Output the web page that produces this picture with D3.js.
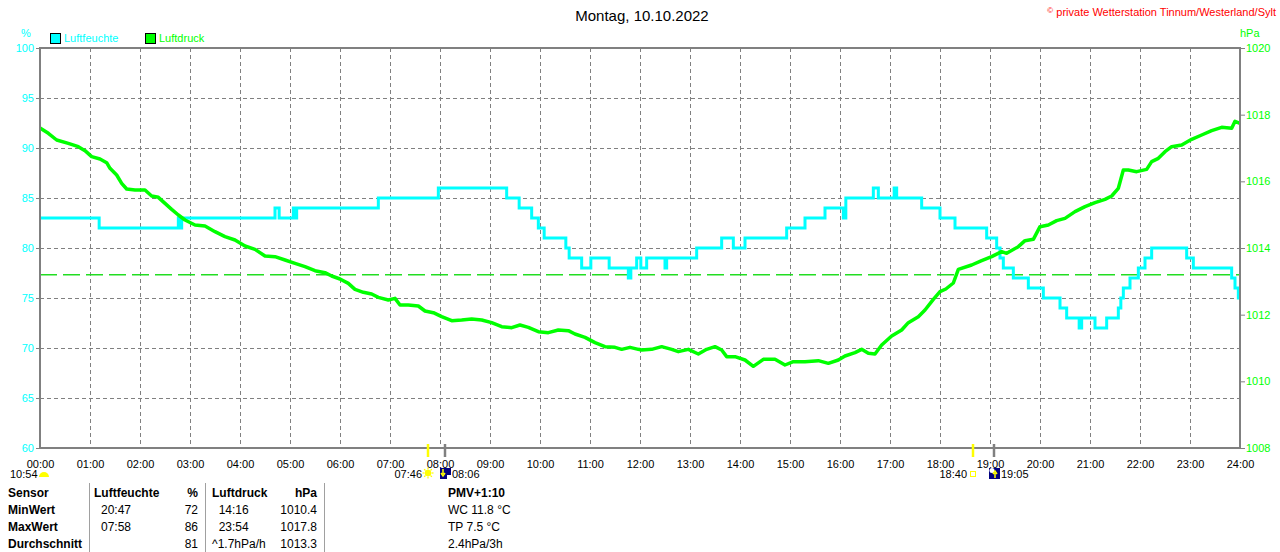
<!DOCTYPE html>
<html>
<head>
<meta charset="utf-8">
<script src="https://cdn.jsdelivr.net/npm/d3@7"></script>
<style>
	body { margin: 0; background: #fff; }
	svg { display: block; font-family: "Liberation Sans", Arial, sans-serif; }
</style>
</head>
<body>
<svg id="chart"></svg>
<script>
// --- data (times in minutes after midnight) ---
const hourLabels = ["00:00", "01:00", "02:00", "03:00", "04:00", "05:00", "06:00", "07:00",
	"08:00", "09:00", "10:00", "11:00", "12:00", "13:00", "14:00", "15:00", "16:00",
	"17:00", "18:00", "19:00", "20:00", "21:00", "22:00", "23:00", "24:00"];
const humTicks = [60, 65, 70, 75, 80, 85, 90, 95, 100];
const pressTicks = [1008, 1010, 1012, 1014, 1016, 1018, 1020];

// Luftfeuchte (%), step values
const humTimes = [0, 71, 166, 168, 170, 282, 287, 304, 306, 308, 406, 478, 560, 575, 590, 598,
	605, 631, 635, 650, 661, 683, 706, 709, 716, 721, 728, 750, 752, 788, 818, 832, 846, 896,
	918, 942, 964, 967, 1000, 1006, 1025, 1028, 1058, 1080, 1098, 1136, 1148, 1152, 1156, 1168,
	1186, 1204, 1224, 1232, 1247, 1250, 1266, 1280, 1294, 1297, 1300, 1308, 1318, 1326, 1334,
	1376, 1384, 1430, 1434, 1438, 1440];
const humValues = [83, 82, 83, 82, 83, 84, 83, 84, 83, 84, 85, 86, 85, 84, 83, 82,
	81, 80, 79, 78, 79, 78, 77, 78, 79, 78, 79, 78, 79, 80, 81, 80, 81, 82,
	83, 84, 83, 85, 86, 85, 86, 85, 84, 83, 82, 81, 80, 79, 78, 77,
	76, 75, 74, 73, 72, 73, 72, 73, 74, 75, 76, 77, 78, 79, 80,
	79, 78, 77, 76, 75, 75];

// Luftdruck (hPa)
const pressTimes = [0, 10, 20, 34, 46, 54, 62, 72, 80, 84, 92, 98, 104, 114, 126, 134, 142, 150,
	158, 166, 174, 186, 198, 210, 222, 234, 246, 258, 270, 282, 294, 306, 318, 330, 342, 350,
	360, 370, 378, 388, 398, 406, 418, 426, 432, 442, 454, 462, 472, 482, 494, 506, 518, 530,
	542, 554, 566, 576, 586, 598, 610, 622, 634, 642, 654, 666, 678, 690, 698, 708, 718, 722,
	734, 746, 758, 766, 778, 790, 800, 810, 818, 824, 834, 846, 856, 868, 882, 894, 904, 918,
	934, 946, 958, 966, 978, 986, 994, 1002, 1010, 1022, 1034, 1042, 1054, 1062, 1072, 1080,
	1087, 1096, 1102, 1118, 1130, 1142, 1154, 1160, 1174, 1182, 1192, 1200, 1210, 1220, 1230,
	1242, 1254, 1266, 1278, 1286, 1294, 1300, 1306, 1316, 1328, 1334, 1342, 1350, 1358, 1370,
	1382, 1394, 1406, 1418, 1430, 1434, 1440];
const pressValues = [1017.6, 1017.44, 1017.24, 1017.14, 1017.04, 1016.92, 1016.74, 1016.67, 1016.56,
	1016.39, 1016.19, 1015.94, 1015.77, 1015.74, 1015.74, 1015.56, 1015.52, 1015.34,
	1015.16, 1014.99, 1014.84, 1014.69, 1014.66, 1014.49, 1014.34, 1014.24, 1014.06, 1013.96,
	1013.76, 1013.74, 1013.64, 1013.54, 1013.44, 1013.32, 1013.26, 1013.16,
	1013.07, 1012.94, 1012.76, 1012.67, 1012.62, 1012.52, 1012.44, 1012.49, 1012.29, 1012.29,
	1012.26, 1012.11, 1012.06, 1011.94, 1011.82, 1011.84, 1011.87, 1011.84,
	1011.76, 1011.64, 1011.61, 1011.69, 1011.62, 1011.49, 1011.46, 1011.54, 1011.52, 1011.42,
	1011.32, 1011.16, 1011.04, 1011.02, 1010.96, 1011.02, 1010.96, 1010.94,
	1010.96, 1011.04, 1010.96, 1010.89, 1010.96, 1010.82, 1010.96, 1011.04, 1010.94, 1010.74,
	1010.74, 1010.64, 1010.45, 1010.66, 1010.66, 1010.49, 1010.59, 1010.59,
	1010.62, 1010.54, 1010.64, 1010.76, 1010.86, 1010.96, 1010.84, 1010.82, 1011.09, 1011.36,
	1011.54, 1011.76, 1011.94, 1012.14, 1012.46, 1012.69,
	1012.77, 1012.95, 1013.36, 1013.49, 1013.62, 1013.74, 1013.89, 1013.84, 1014.04, 1014.22,
	1014.26, 1014.64, 1014.69, 1014.82, 1014.89,
	1015.09, 1015.24, 1015.36, 1015.46, 1015.56, 1015.79, 1016.34, 1016.34, 1016.29, 1016.36,
	1016.59, 1016.69, 1016.89, 1017.04, 1017.09,
	1017.26, 1017.39, 1017.52, 1017.62, 1017.59, 1017.8, 1017.74];
const pressAvg = 1013.2;

// sun / moon events
const dayLength = "10:54";
const eventLabels = ["07:46", "08:06", "18:40", "19:05"];
const eventKinds = ["sunrise", "moonset", "sunset", "moonrise"];

// table below the chart
const tableHead = ["Sensor", "Luftfeuchte", "%", "Luftdruck", "hPa", "PMV+1:10"];
const rowNames = ["MinWert", "MaxWert", "Durchschnitt"];
const humTimesTable = ["20:47", "07:58", ""];
const humValuesTable = ["72", "86", "81"];
const pressTimesTable = [" 14:16", " 23:54", "^1.7hPa/h"];
const pressValuesTable = ["1010.4", "1017.8", "1013.3"];
const extraTable = ["WC 11.8 °C", "TP 7.5 °C", "2.4hPa/3h"];

// --- chart ---
const width = 1280, height = 552;
const margin = { top: 48, right: 40, bottom: 104, left: 40 };
const cyan = "#00ffff", green = "#00ff00", gridColour = "#808080";

const toMin = s => +s.slice(0, 2) * 60 + +s.slice(3, 5);

const svg = d3.select("#chart")
	.attr("width", width)
	.attr("height", height);

const x = d3.scaleLinear().domain([0, 1440]).range([margin.left, width - margin.right]);
const yH = d3.scaleLinear().domain([60, 100]).range([height - margin.bottom, margin.top]);
const yP = d3.scaleLinear().domain([1008, 1020]).range([height - margin.bottom, margin.top]);

// title and copyright
svg.append("text")
	.attr("x", 642).attr("y", 21)
	.attr("text-anchor", "middle")
	.attr("font-size", 15)
	.text("Montag, 10.10.2022");

svg.append("text")
	.attr("x", 1276).attr("y", 16)
	.attr("text-anchor", "end")
	.attr("font-size", 11)
	.attr("fill", "#ff0000")
	.html('<tspan font-size="8" dy="-3">©</tspan><tspan dy="3"> private Wetterstation Tinnum/Westerland/Sylt</tspan>');

// unit labels
svg.append("text").attr("x", 26).attr("y", 37).attr("font-size", 11)
	.attr("fill", cyan).attr("text-anchor", "middle").text("%");
svg.append("text").attr("x", 1240).attr("y", 37).attr("font-size", 11)
	.attr("fill", green).text("hPa");

// legend
const legend = [["Luftfeuchte", cyan, 50], ["Luftdruck", green, 145]];
legend.forEach(([name, col, lx]) => {
	svg.append("rect").attr("x", lx + 0.5).attr("y", 33.5).attr("width", 10).attr("height", 10)
		.attr("fill", col).attr("stroke", "#000");
	svg.append("text").attr("x", lx + 14).attr("y", 42).attr("font-size", 11)
		.attr("fill", col).text(name);
});

// grid
const grid = svg.append("g")
	.attr("stroke", gridColour)
	.attr("stroke-dasharray", "4,3")
	.attr("stroke-width", 1);

grid.selectAll("line.v")
	.data(d3.range(60, 1440, 60))
	.join("line")
	.attr("x1", d => Math.round(x(d)) + 0.5).attr("x2", d => Math.round(x(d)) + 0.5)
	.attr("y1", margin.top).attr("y2", height - margin.bottom);

grid.selectAll("line.h")
	.data(humTicks.slice(1, -1))
	.join("line")
	.attr("x1", margin.left).attr("x2", width - margin.right)
	.attr("y1", d => Math.round(yH(d)) + 0.5).attr("y2", d => Math.round(yH(d)) + 0.5);

// average pressure line
svg.append("line")
	.attr("x1", margin.left).attr("x2", width - margin.right)
	.attr("y1", yP(pressAvg)).attr("y2", yP(pressAvg))
	.attr("stroke", "#22dd22")
	.attr("stroke-width", 1.5)
	.attr("stroke-dasharray", "17,6");

// humidity line
const humData = humTimes.map((t, i) => [t, humValues[i]]);
svg.append("path")
	.datum(humData)
	.attr("fill", "none")
	.attr("stroke", cyan)
	.attr("stroke-width", 3)
	.attr("d", d3.line().x(d => x(d[0])).y(d => yH(d[1])).curve(d3.curveStepAfter));

// pressure line
const pressData = pressTimes.map((t, i) => [t, pressValues[i]]);
svg.append("path")
	.datum(pressData)
	.attr("fill", "none")
	.attr("stroke", green)
	.attr("stroke-width", 3.5)
	.attr("stroke-linejoin", "round")
	.attr("d", d3.line().x(d => x(d[0])).y(d => yP(d[1])));

// frame
svg.append("rect")
	.attr("x", margin.left).attr("y", margin.top)
	.attr("width", width - margin.left - margin.right)
	.attr("height", height - margin.top - margin.bottom)
	.attr("fill", "none")
	.attr("stroke", gridColour)
	.attr("stroke-width", 2);

// axes
let yAxisLeft = g => g
	.attr("transform", "translate(" + margin.left + ",0)")
	.call(d3.axisLeft(yH).tickValues(humTicks).tickSize(4).tickPadding(2));
let yAxisRight = g => g
	.attr("transform", "translate(" + (width - margin.right) + ",0)")
	.call(d3.axisRight(yP).tickValues(pressTicks).tickFormat(d3.format("d")).tickSize(5).tickPadding(1));
let xAxis = g => g
	.attr("transform", "translate(0," + (height - margin.bottom) + ")")
	.call(d3.axisBottom(x).tickValues(d3.range(0, 1441, 60))
		.tickFormat((d, i) => hourLabels[i]).tickSize(0).tickPadding(12));

const axL = svg.append("g").call(yAxisLeft);
const axR = svg.append("g").call(yAxisRight);
const axB = svg.append("g").call(xAxis);
[axL, axR, axB].forEach(a => {
	a.select(".domain").remove();
	a.attr("font-family", null).attr("font-size", 11);
	a.selectAll(".tick line").attr("stroke", gridColour);
});
axL.selectAll(".tick text").attr("fill", cyan);
axR.selectAll(".tick text").attr("fill", green);
axB.selectAll(".tick text").attr("fill", "#000");

// sun and moon events
const ev = svg.append("g").attr("font-size", 11);
const evY = 478;
ev.append("text").attr("x", 10).attr("y", evY).text(dayLength);
ev.append("path")
	.attr("transform", "translate(44,477)")
	.attr("d", d3.arc()({ innerRadius: 0, outerRadius: 5, startAngle: -Math.PI / 2, endAngle: Math.PI / 2 }))
	.attr("fill", "#ffff00");

eventLabels.forEach((lab, i) => {
	const kind = eventKinds[i];
	const ex = Math.round(x(toMin(lab)));
	const isSun = kind.startsWith("sun");
	ev.append("line")
		.attr("x1", ex).attr("x2", ex)
		.attr("y1", 444).attr("y2", 457)
		.attr("stroke", isSun ? "#ffff00" : gridColour)
		.attr("stroke-width", 2.5);
	if (isSun) {
		ev.append("text").attr("x", ex - 6).attr("y", evY).attr("text-anchor", "end").text(lab);
		if (kind === "sunrise") {
			const s = ev.append("g").attr("transform", "translate(" + ex + ",473)");
			s.append("circle").attr("r", 3.2).attr("fill", "#ffff00");
			s.selectAll("line")
				.data(d3.range(0, 8))
				.join("line")
				.attr("x1", d => Math.cos(d * Math.PI / 4) * 3.5)
				.attr("y1", d => Math.sin(d * Math.PI / 4) * 3.5)
				.attr("x2", d => Math.cos(d * Math.PI / 4) * 5.5)
				.attr("y2", d => Math.sin(d * Math.PI / 4) * 5.5)
				.attr("stroke", "#ffff00").attr("stroke-width", 1.2);
		} else {
			ev.append("rect").attr("x", ex - 2.5).attr("y", 471.5).attr("width", 5).attr("height", 5)
				.attr("fill", "none").attr("stroke", "#ffff00").attr("stroke-width", 1);
		}
	} else {
		const m = ev.append("g").attr("transform", "translate(" + (ex - 5) + ",468)");
		m.append("rect").attr("width", 11).attr("height", 11).attr("fill", "#000080");
		if (kind === "moonset") {
			m.append("rect").attr("x", 7).attr("y", 7).attr("width", 4).attr("height", 4).attr("fill", "#ffffff");
			m.append("path").attr("d", "M3,1V6M1,5L3,8L5,5").attr("stroke", "#ffff00")
				.attr("stroke-width", 1.5).attr("fill", "none");
		} else {
			m.append("circle").attr("cx", 3).attr("cy", 2.5).attr("r", 2.5).attr("fill", "#ffffff");
			m.append("path").attr("d", "M6,10V5M4,6L6,3L8,6").attr("stroke", "#ffff00")
				.attr("stroke-width", 1.5).attr("fill", "none");
		}
		ev.append("text").attr("x", ex + 7).attr("y", evY).text(lab);
	}
});

// table
const tbl = svg.append("g").attr("font-size", 12);
[89, 205, 324].forEach(sx => {
	tbl.append("line")
		.attr("x1", sx + 0.5).attr("x2", sx + 0.5)
		.attr("y1", 483).attr("y2", height)
		.attr("stroke", "#a0a0a0");
});
const rowY = [497, 514, 531, 548];
const headX = [[8, "start"], [94, "start"], [198, "end"], [212, "start"], [317, "end"], [448, "start"]];
tableHead.forEach((h, i) => {
	tbl.append("text").attr("x", headX[i][0]).attr("y", rowY[0])
		.attr("text-anchor", headX[i][1]).attr("font-weight", "bold").text(h);
});
rowNames.forEach((r, i) => {
	const ry = rowY[i + 1];
	tbl.append("text").attr("x", 8).attr("y", ry).attr("font-weight", "bold").text(r);
	tbl.append("text").attr("x", 101).attr("y", ry).text(humTimesTable[i]);
	tbl.append("text").attr("x", 198).attr("y", ry).attr("text-anchor", "end").text(humValuesTable[i]);
	tbl.append("text").attr("x", 212).attr("y", ry).attr("xml:space", "preserve")
		.text(pressTimesTable[i].startsWith(" ") ? "\u00a0\u00a0" + pressTimesTable[i].trim() : pressTimesTable[i]);
	tbl.append("text").attr("x", 317).attr("y", ry).attr("text-anchor", "end").text(pressValuesTable[i]);
	tbl.append("text").attr("x", 448).attr("y", ry).text(extraTable[i]);
});
</script>
</body>
</html>
